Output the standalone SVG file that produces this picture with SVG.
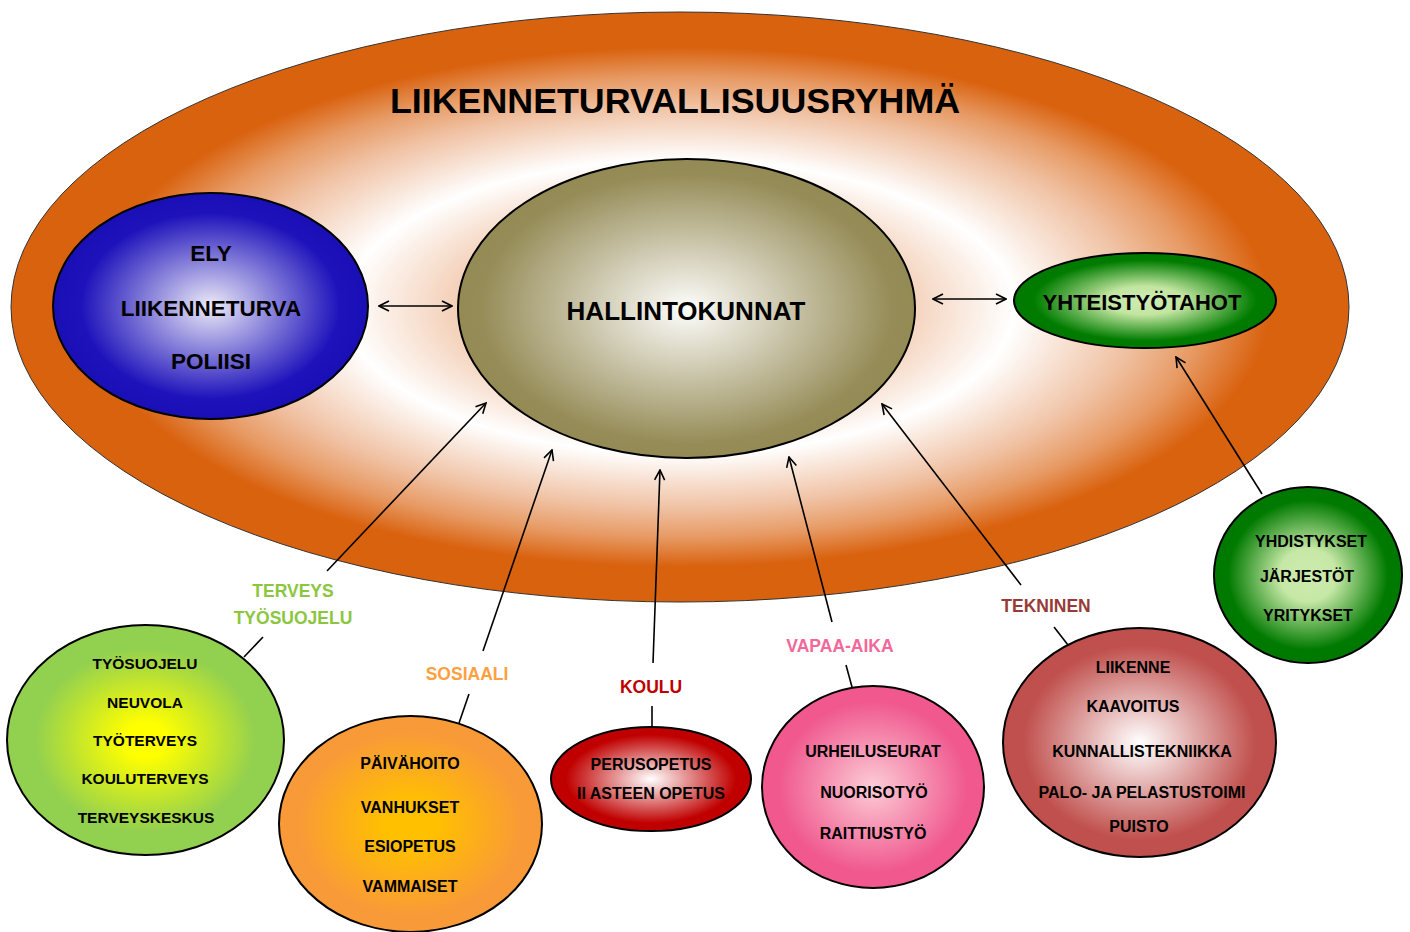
<svg xmlns="http://www.w3.org/2000/svg" width="1410" height="932" viewBox="0 0 1410 932">
<defs>
<style>
.t{font-family:"Liberation Sans",Arial,sans-serif;font-weight:bold;fill:#000;text-anchor:middle}
.n{stroke:#000;stroke-width:2}
.c{stroke:#000;stroke-width:1.6;fill:none}
.lbl{font-family:"Liberation Sans",Arial,sans-serif;font-weight:bold;font-size:17.5px;text-anchor:middle}
</style>
<radialGradient id="gOuter" cx="0.5" cy="0.5" r="0.5">
<stop offset="0" stop-color="#EDB896"/>
<stop offset="0.3" stop-color="#F1C6A9"/>
<stop offset="0.5" stop-color="#FFFFFF"/>
<stop offset="0.68" stop-color="#F0C2A4"/>
<stop offset="0.78" stop-color="#E79A64"/>
<stop offset="0.88" stop-color="#D9620F"/>
<stop offset="1" stop-color="#D9620F"/>
</radialGradient>
<radialGradient id="gEly" cx="0.5" cy="0.5" r="0.5">
<stop offset="0" stop-color="#ECEAF7"/>
<stop offset="0.82" stop-color="#1E13BB"/>
<stop offset="1" stop-color="#1A0FB5"/>
</radialGradient>
<radialGradient id="gHal" cx="0.5" cy="0.5" r="0.5">
<stop offset="0" stop-color="#FDFDFB"/>
<stop offset="0.9" stop-color="#968C58"/>
<stop offset="1" stop-color="#948A54"/>
</radialGradient>
<radialGradient id="gYht" cx="0.5" cy="0.5" r="0.5">
<stop offset="0" stop-color="#D0EDB6"/>
<stop offset="0.3" stop-color="#C2E5A0"/>
<stop offset="0.85" stop-color="#007C00"/>
<stop offset="1" stop-color="#007800"/>
</radialGradient>
<radialGradient id="gTer" cx="0.5" cy="0.5" r="0.5">
<stop offset="0" stop-color="#FFFF00"/>
<stop offset="0.15" stop-color="#FFFF00"/>
<stop offset="0.8" stop-color="#92D050"/>
<stop offset="1" stop-color="#92D050"/>
</radialGradient>
<radialGradient id="gSos" cx="0.5" cy="0.5" r="0.5">
<stop offset="0" stop-color="#FFC000"/>
<stop offset="0.2" stop-color="#FFC000"/>
<stop offset="0.85" stop-color="#F99A38"/>
<stop offset="1" stop-color="#F99A38"/>
</radialGradient>
<radialGradient id="gKou" cx="0.5" cy="0.5" r="0.5">
<stop offset="0" stop-color="#FFFFFF"/>
<stop offset="0.85" stop-color="#C00000"/>
<stop offset="1" stop-color="#C00000"/>
</radialGradient>
<radialGradient id="gVap" cx="0.5" cy="0.5" r="0.5">
<stop offset="0" stop-color="#FCCCD6"/>
<stop offset="0.85" stop-color="#F0588E"/>
<stop offset="1" stop-color="#F0588E"/>
</radialGradient>
<radialGradient id="gTek" cx="0.5" cy="0.5" r="0.5">
<stop offset="0" stop-color="#FFFFFF"/>
<stop offset="0.85" stop-color="#C0504D"/>
<stop offset="1" stop-color="#C0504D"/>
</radialGradient>
<radialGradient id="gYhd" cx="0.5" cy="0.5" r="0.5">
<stop offset="0" stop-color="#CCEBAE"/>
<stop offset="0.3" stop-color="#C6E8A6"/>
<stop offset="0.85" stop-color="#007A00"/>
<stop offset="1" stop-color="#007800"/>
</radialGradient>
<marker id="ah" viewBox="0 0 12 12" refX="11" refY="6" markerWidth="12" markerHeight="12" markerUnits="userSpaceOnUse" orient="auto-start-reverse">
<path d="M1,1 L11,6 L1,11" fill="none" stroke="#000" stroke-width="1.6"/>
</marker>
</defs>

<g id="liikenneturvallisuusryhma">
<ellipse cx="680" cy="307" rx="669" ry="295" fill="url(#gOuter)" stroke="#333" stroke-width="1"/>
<text class="t" x="675" y="113" font-size="35.8">LIIKENNETURVALLISUUSRYHMÄ</text>
</g>

<g id="ely">
<ellipse class="n" cx="210.5" cy="306" rx="157.5" ry="113" fill="url(#gEly)" stroke-width="1.5"/>
<text class="t" x="211" y="261" font-size="22.5">ELY</text>
<text class="t" x="211" y="316" font-size="22.5">LIIKENNETURVA</text>
<text class="t" x="211" y="369" font-size="22.5">POLIISI</text>
</g>

<g id="hallintokunnat">
<ellipse class="n" cx="686.5" cy="308.5" rx="228.5" ry="149.5" fill="url(#gHal)"/>
<text class="t" x="686" y="320" font-size="26">HALLINTOKUNNAT</text>
</g>

<g id="yhteistyotahot">
<ellipse class="n" cx="1145" cy="300.5" rx="131" ry="47.5" fill="url(#gYht)"/>
<text class="t" x="1142" y="310" font-size="22">YHTEISTYÖTAHOT</text>
</g>

<g id="terveys">
<ellipse class="n" cx="145.5" cy="740" rx="138.5" ry="115" fill="url(#gTer)"/>
<text class="t" x="145" y="669" font-size="15.5">TYÖSUOJELU</text>
<text class="t" x="145" y="708" font-size="15.5">NEUVOLA</text>
<text class="t" x="145" y="746" font-size="15.5">TYÖTERVEYS</text>
<text class="t" x="145" y="784" font-size="15.5">KOULUTERVEYS</text>
<text class="t" x="146" y="823" font-size="15.5">TERVEYSKESKUS</text>
</g>

<g id="sosiaali">
<ellipse class="n" cx="410.5" cy="824" rx="131.5" ry="108" fill="url(#gSos)"/>
<text class="t" x="410" y="769" font-size="16">PÄIVÄHOITO</text>
<text class="t" x="410" y="813" font-size="16">VANHUKSET</text>
<text class="t" x="410" y="852" font-size="16">ESIOPETUS</text>
<text class="t" x="410" y="892" font-size="16">VAMMAISET</text>
</g>

<g id="koulu">
<ellipse class="n" cx="651" cy="779" rx="100" ry="52" fill="url(#gKou)"/>
<text class="t" x="651" y="770" font-size="16">PERUSOPETUS</text>
<text class="t" x="651" y="799" font-size="16">II ASTEEN OPETUS</text>
</g>

<g id="vapaa-aika">
<ellipse class="n" cx="873" cy="787" rx="111" ry="101" fill="url(#gVap)"/>
<text class="t" x="873" y="757" font-size="16">URHEILUSEURAT</text>
<text class="t" x="874" y="798" font-size="16">NUORISOTYÖ</text>
<text class="t" x="873" y="839" font-size="16">RAITTIUSTYÖ</text>
</g>

<g id="tekninen">
<ellipse class="n" cx="1139.5" cy="742.5" rx="136.5" ry="114.5" fill="url(#gTek)"/>
<text class="t" x="1133" y="673" font-size="16">LIIKENNE</text>
<text class="t" x="1133" y="712" font-size="16">KAAVOITUS</text>
<text class="t" x="1142" y="757" font-size="16">KUNNALLISTEKNIIKKA</text>
<text class="t" x="1142" y="798" font-size="16">PALO- JA PELASTUSTOIMI</text>
<text class="t" x="1139" y="832" font-size="16">PUISTO</text>
</g>

<g id="yhdistykset">
<ellipse class="n" cx="1308" cy="575" rx="94" ry="88" fill="url(#gYhd)"/>
<text class="t" x="1311" y="547" font-size="16">YHDISTYKSET</text>
<text class="t" x="1307" y="582" font-size="16">JÄRJESTÖT</text>
<text class="t" x="1308" y="621" font-size="16">YRITYKSET</text>
</g>

<g id="labels">
<text class="lbl" x="293" y="597" fill="#8CC63F">TERVEYS</text>
<text class="lbl" x="293" y="624" fill="#8CC63F">TYÖSUOJELU</text>
<text class="lbl" x="467" y="680" fill="#FFA040">SOSIAALI</text>
<text class="lbl" x="651" y="693" fill="#C00000">KOULU</text>
<text class="lbl" x="840" y="652" fill="#F2689A">VAPAA-AIKA</text>
<text class="lbl" x="1046" y="612" fill="#983B38">TEKNINEN</text>
</g>

<g id="connectors">
<line class="c" x1="379" y1="306" x2="452" y2="306" marker-start="url(#ah)" marker-end="url(#ah)"/>
<line class="c" x1="933" y1="299" x2="1006" y2="299" marker-start="url(#ah)" marker-end="url(#ah)"/>
<line class="c" x1="327" y1="571" x2="486" y2="403" marker-end="url(#ah)"/>
<line class="c" x1="244" y1="657" x2="263" y2="637"/>
<line class="c" x1="483" y1="651" x2="552" y2="450" marker-end="url(#ah)"/>
<line class="c" x1="459" y1="723" x2="469" y2="694"/>
<line class="c" x1="653" y1="663" x2="660" y2="470" marker-end="url(#ah)"/>
<line class="c" x1="652" y1="727" x2="652" y2="706"/>
<line class="c" x1="832" y1="622" x2="789" y2="457" marker-end="url(#ah)"/>
<line class="c" x1="852" y1="687" x2="846" y2="665"/>
<line class="c" x1="1021" y1="585" x2="882" y2="404" marker-end="url(#ah)"/>
<line class="c" x1="1068" y1="645" x2="1054" y2="627"/>
<line class="c" x1="1262" y1="494" x2="1176" y2="357" marker-end="url(#ah)"/>
</g>
</svg>
